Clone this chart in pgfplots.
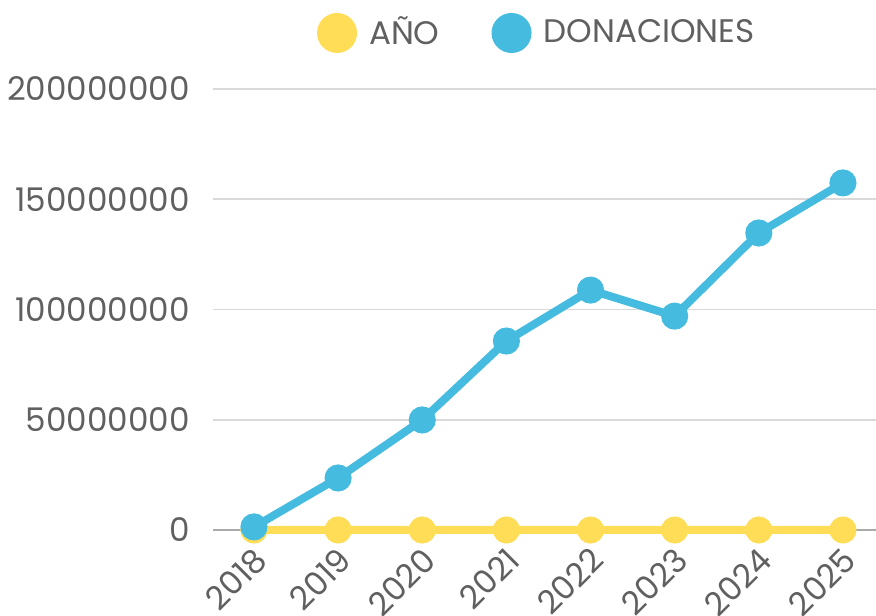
\documentclass[border=0pt]{standalone}
\usepackage{pgfplots}
\pgfplotsset{compat=1.18}
\usepackage{fontspec}
\setmainfont{Poppins}
\definecolor{cyel}{HTML}{FFDD57}
\definecolor{cblue}{HTML}{44BBDF}
\definecolor{ctext}{HTML}{606060}
\definecolor{cgrid}{HTML}{D9D9D9}
\definecolor{czero}{HTML}{AAAAAA}
\begin{document}
\fontsize{16.3pt}{19pt}\selectfont
\begin{tikzpicture}
\begin{axis}[
  scale only axis,
  width=331.5pt, height=220.5pt,
  xmin=2017.513, xmax=2025.393,
  ymin=0, ymax=200000000,
  xtick={2018,2019,2020,2021,2022,2023,2024,2025},
  xticklabels={2018,2019,2020,2021,2022,2023,2024,2025},
  ytick={0,50000000,100000000,150000000,200000000},
  yticklabels={0,50000000,100000000,150000000,200000000},
  scaled y ticks=false,
  axis line style={draw=none},
  tick style={draw=none},
  ymajorgrids,
  grid style={cgrid, line width=0.8pt},
  extra y ticks={0},
  extra y tick labels={},
  extra y tick style={grid style={czero, line width=1pt}},
  ticklabel style={text=ctext, font=\fontsize{16.3pt}{19pt}\selectfont},
  yticklabel style={xshift=-6pt},
  xticklabel style={rotate=45, anchor=east, xshift=-0.5pt, yshift=-11pt},
  clip=false,
  legend columns=2,
  legend style={at={(0.49,1.127)}, anchor=center, draw=none, fill=none,
    font=\fontsize{16.3pt}{19pt}\selectfont, text=ctext,
    /tikz/every even column/.append style={column sep=24pt}},
  legend image code/.code={\fill[#1] (0.1cm,0) circle (8pt);},
]
\addplot[cyel, line width=4pt, mark=*, mark size=4.75pt, mark options={fill=cyel, draw=none}]
  coordinates {(2018,2018) (2019,2019) (2020,2020) (2021,2021) (2022,2022) (2023,2023) (2024,2024) (2025,2025)};
\addlegendentry{\hspace{4pt}AÑO}
\addplot[cblue, line width=4pt, mark=*, mark size=4.75pt, mark options={fill=cblue, draw=none}]
  coordinates {(2018,1400000) (2019,23600000) (2020,49900000) (2021,85700000) (2022,108800000) (2023,97000000) (2024,134700000) (2025,157400000)};
\addlegendentry{\hspace{4pt}DONACIONES}
\end{axis}
\pgfresetboundingbox
\useasboundingbox (-106.5pt,-42.5pt) rectangle (331.5pt,265pt);
\end{tikzpicture}
\end{document}
